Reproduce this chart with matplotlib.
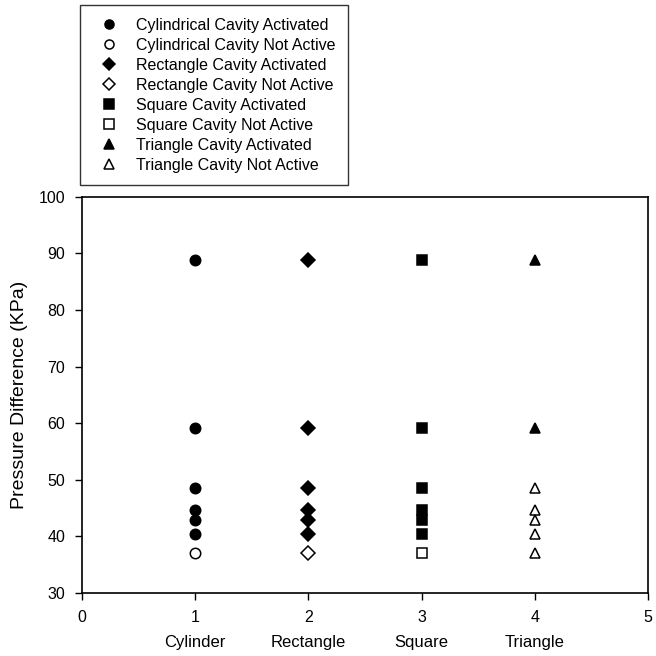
import matplotlib
matplotlib.use("Agg")
from matplotlib import pyplot as plt

plt.rcParams['font.family'] = ['Liberation Sans', 'DejaVu Sans']

# pressure difference readings (KPa) per cavity shape
categories = ["Cylinder", "Rectangle", "Square", "Triangle"]
cyl_on = [88.8, 59.1, 48.6, 44.7, 42.9, 40.4]
cyl_off = [37.1]
rect_on = [88.8, 59.1, 48.6, 44.7, 42.9, 40.4]
rect_off = [37.1]
sq_on = [88.8, 59.1, 48.6, 44.7, 42.9, 40.4]
sq_off = [37.1]
tri_on = [88.8, 59.1]
tri_off = [48.6, 44.7, 42.9, 40.4, 37.1]

series = [
    (1, cyl_on, "o", True, "Cylindrical Cavity Activated"),
    (1, cyl_off, "o", False, "Cylindrical Cavity Not Active"),
    (2, rect_on, "D", True, "Rectangle Cavity Activated"),
    (2, rect_off, "D", False, "Rectangle Cavity Not Active"),
    (3, sq_on, "s", True, "Square Cavity Activated"),
    (3, sq_off, "s", False, "Square Cavity Not Active"),
    (4, tri_on, "^", True, "Triangle Cavity Activated"),
    (4, tri_off, "^", False, "Triangle Cavity Not Active"),
]
msize = {"o": 7.5, "D": 7, "s": 6.5, "^": 7.5}

fig = plt.figure(figsize=(6.56, 6.56), dpi=100)
ax = fig.add_axes([0.125, 0.096, 0.863, 0.604])

for xpos, vals, mk, filled, label in series:
    ax.plot([xpos] * len(vals), vals, linestyle="none", marker=mk,
            markersize=msize[mk], markerfacecolor="black" if filled else "white",
            markeredgecolor="black", markeredgewidth=1.1, label=label)

ax.set_xlim(0, 5)
ax.set_ylim(30, 100)
ax.set_xticks(range(0, 6))
ax.set_yticks(range(30, 101, 10))
ax.tick_params(direction="out", length=5, width=1, labelsize=11.5, pad=7)
for sp in ax.spines.values():
    sp.set_linewidth(1.2)
ax.set_ylabel("Pressure Difference (KPa)", fontsize=14, labelpad=8)

for i, name in enumerate(categories):
    ax.text(i + 1, -0.125, name, transform=ax.get_xaxis_transform(),
            ha="center", va="center", fontsize=12)

leg = fig.legend(loc="upper left", bbox_to_anchor=(0.122, 0.992), fontsize=11.5,
                 frameon=True, fancybox=False, edgecolor="black",
                 handlelength=2.0, handletextpad=0.7, labelspacing=0.31,
                 borderpad=0.8, borderaxespad=0)
leg.get_frame().set_linewidth(1.0)
for h in leg.legend_handles:
    h.set_markersize(6.5)

fig.savefig("out.png", dpi=100)
